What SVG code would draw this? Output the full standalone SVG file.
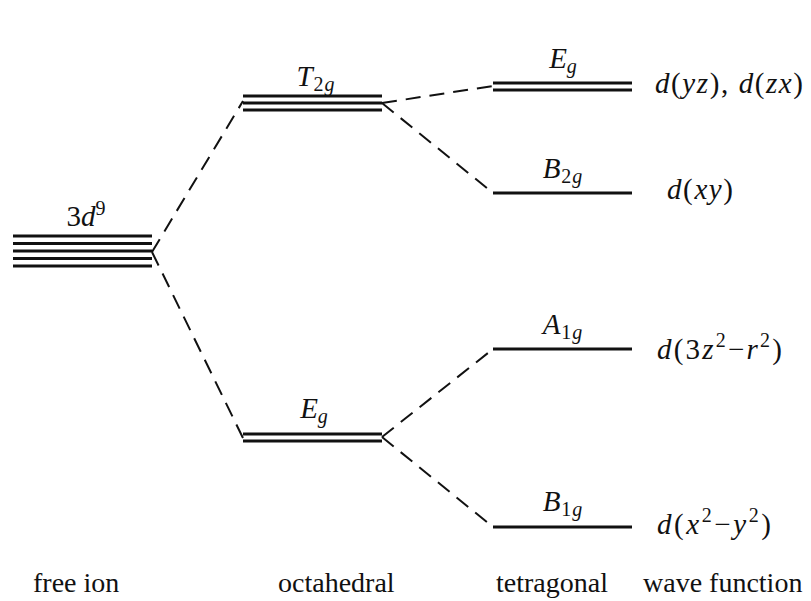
<svg xmlns="http://www.w3.org/2000/svg" width="811" height="601" viewBox="0 0 811 601">
<style>
.lv{stroke:#111;stroke-width:3;fill:none}
.dc{stroke:#111;stroke-width:2;fill:none;stroke-dasharray:15 9}
text{font-family:'Liberation Serif','Times New Roman','DejaVu Serif',serif;fill:#111}
.m{font-style:italic;font-size:29px}
.u{font-style:normal}
.s{font-size:20px}
.t{font-size:28px}
</style>
<rect width="811" height="601" fill="#fff"/>
<g id="connectors">
<path class="dc" d="M152 252 L243 101"/>
<path class="dc" d="M152 252 L243 438"/>
<path class="dc" d="M382 103 L493 86"/>
<path class="dc" d="M382 103 L493 193"/>
<path class="dc" d="M382 437 L493 349"/>
<path class="dc" d="M382 437 L493 527"/>
</g>
<g id="free-ion">
<path class="lv" d="M13 236H152M13 243.5H152M13 251H152M13 258.5H152M13 266H152"/>
<text class="m" x="86" y="226" text-anchor="middle"><tspan class="u">3</tspan>d<tspan class="s u" dy="-11">9</tspan></text>
</g>
<g id="T2g">
<path class="lv" d="M243 96H382M243 103H382M243 110H382"/>
<text class="m" x="316" y="86" text-anchor="middle" letter-spacing="1">T<tspan class="s u" dy="5">2</tspan><tspan class="s">g</tspan></text>
</g>
<g id="Eg-oct">
<path class="lv" d="M243 434H382M243 441H382"/>
<text class="m" x="314" y="418" text-anchor="middle">E<tspan class="s" dy="5">g</tspan></text>
</g>
<g id="Eg-tet">
<path class="lv" d="M493 83H632M493 90H632"/>
<text class="m" x="563" y="68" text-anchor="middle">E<tspan class="s" dy="5">g</tspan></text>
</g>
<g id="B2g">
<path class="lv" d="M493 193H632"/>
<text class="m" x="563" y="178" text-anchor="middle" letter-spacing="1">B<tspan class="s u" dy="5">2</tspan><tspan class="s">g</tspan></text>
</g>
<g id="A1g">
<path class="lv" d="M493 349H632"/>
<text class="m" x="563" y="334" text-anchor="middle" letter-spacing="1">A<tspan class="s u" dy="5">1</tspan><tspan class="s">g</tspan></text>
</g>
<g id="B1g">
<path class="lv" d="M493 527H632"/>
<text class="m" x="563" y="511" text-anchor="middle" letter-spacing="1">B<tspan class="s u" dy="5">1</tspan><tspan class="s">g</tspan></text>
</g>
<g id="wave-functions">
<text class="m" x="655" y="93" textLength="148" lengthAdjust="spacing">d<tspan class="u">(</tspan>yz<tspan class="u">), </tspan>d<tspan class="u">(</tspan>zx<tspan class="u">)</tspan></text>
<text class="m" x="667" y="199" textLength="66" lengthAdjust="spacing">d<tspan class="u">(</tspan>xy<tspan class="u">)</tspan></text>
<text class="m" x="657" y="359" textLength="125" lengthAdjust="spacing">d<tspan class="u">(3</tspan>z<tspan class="s u" dy="-12">2</tspan><tspan class="u" dy="12">−</tspan>r<tspan class="s u" dy="-12">2</tspan><tspan class="u" dy="12">)</tspan></text>
<text class="m" x="657" y="534" textLength="114" lengthAdjust="spacing">d<tspan class="u">(</tspan>x<tspan class="s u" dy="-12">2</tspan><tspan class="u" dy="12">−</tspan>y<tspan class="s u" dy="-12">2</tspan><tspan class="u" dy="12">)</tspan></text>
</g>
<g id="axis-labels">
<text class="t" x="33" y="592">free ion</text>
<text class="t" x="278" y="592">octahedral</text>
<text class="t" x="496" y="592">tetragonal</text>
<text class="t" x="643" y="592">wave function</text>
</g>
</svg>
